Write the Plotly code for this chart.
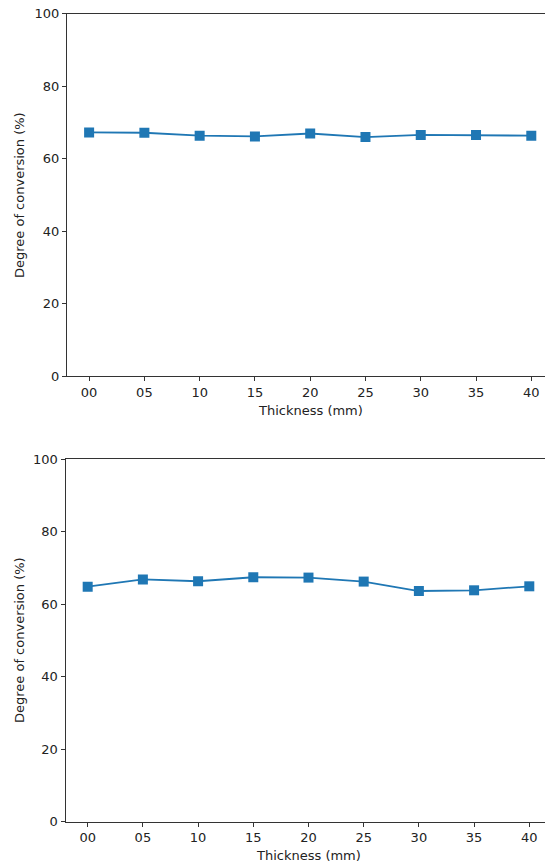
import plotly.graph_objects as go

thickness_labels = ["00", "05", "10", "15", "20", "25", "30", "35", "40"]
positions = list(range(len(thickness_labels)))
conversion_top = [67.2, 67.1, 66.3, 66.1, 66.9, 65.9, 66.5, 66.5, 66.3]
conversion_bottom = [64.8, 66.8, 66.3, 67.4, 67.3, 66.2, 63.6, 63.8, 64.9]
y_ticks = [0, 20, 40, 60, 80, 100]

W, H = 545, 866
BLUE = "#1f77b4"
FONT = "DejaVu Sans"
FS = 13

fig = go.Figure()
fig.add_trace(go.Scatter(x=positions, y=conversion_top, mode="lines+markers",
                         line=dict(color=BLUE, width=1.8),
                         marker=dict(symbol="square", size=10, color=BLUE),
                         xaxis="x", yaxis="y", showlegend=False))
fig.add_trace(go.Scatter(x=positions, y=conversion_bottom, mode="lines+markers",
                         line=dict(color=BLUE, width=1.8),
                         marker=dict(symbol="square", size=10, color=BLUE),
                         xaxis="x2", yaxis="y2", showlegend=False))

def xaxis(dom, rng, anchor):
    return dict(domain=dom, range=rng, anchor=anchor, tickmode="array",
                tickvals=positions, ticktext=thickness_labels,
                showline=True, mirror=True, linecolor="#333", linewidth=1.2,
                ticks="outside", ticklen=4, tickwidth=1, tickcolor="#333",
                showgrid=False, zeroline=False, automargin=False,
                tickfont=dict(family=FONT, size=FS, color="#222"))

def yaxis(dom, anchor):
    return dict(domain=dom, range=[0, 100], anchor=anchor, tickmode="array",
                tickvals=y_ticks, showline=True, mirror=False, linecolor="#333",
                linewidth=1.2, ticks="outside", ticklen=4, tickwidth=1,
                tickcolor="#333", showgrid=False, zeroline=False,
                automargin=False,
                tickfont=dict(family=FONT, size=FS, color="#222"))

top_y = [1 - 376 / H, 1 - 13.5 / H]
bot_y = [1 - 821.7 / H, 1 - 459 / H]

fig.update_layout(
    template="none",
    width=W, height=H,
    margin=dict(l=0, r=0, t=0, b=0, pad=0),
    paper_bgcolor="white", plot_bgcolor="white",
    xaxis=xaxis([67 / W, 1], [-0.4, (W - 89.3) / 55.25], "y"),
    yaxis=yaxis(top_y, "x"),
    xaxis2=xaxis([65.6 / W, 1], [-0.4, (W - 87.7) / 55.2], "y2"),
    yaxis2=yaxis(bot_y, "x2"),
    font=dict(family=FONT, size=FS, color="#222"),
)

annots = [
    dict(text="Thickness (mm)", x=(67 + 553) / 2 / W, y=1 - 410 / H),
    dict(text="Thickness (mm)", x=(65.6 + 551) / 2 / W, y=1 - 855 / H),
    dict(text="Degree of conversion (%)", x=19 / W, y=1 - 195 / H, textangle=-90),
    dict(text="Degree of conversion (%)", x=19 / W, y=1 - 640 / H, textangle=-90),
]
for a in annots:
    fig.add_annotation(xref="paper", yref="paper", showarrow=False,
                       xanchor="center", yanchor="middle",
                       font=dict(family=FONT, size=FS, color="#222"), **a)

fig.write_html("out.html")
